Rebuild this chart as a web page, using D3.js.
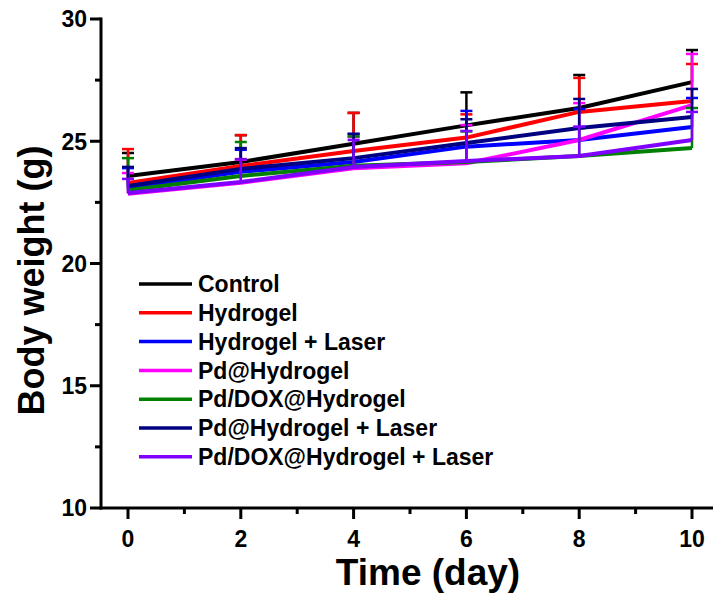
<!DOCTYPE html>
<html>
<head>
<meta charset="utf-8">
<script src="https://cdn.jsdelivr.net/npm/d3@7"></script>
<style>
  html, body { margin: 0; padding: 0; background: #fff; }
  svg text { font-family: Arial, "Liberation Sans", sans-serif; font-weight: bold; }
</style>
</head>
<body>
<svg id="chart" width="713" height="601"></svg>
<script>
const days = [0, 2, 4, 6, 8, 10];
const seriesNames = ["Control", "Hydrogel", "Hydrogel + Laser", "Pd@Hydrogel", "Pd/DOX@Hydrogel", "Pd@Hydrogel + Laser", "Pd/DOX@Hydrogel + Laser"];
const seriesColors = ["#000000", "#ff0000", "#0000ff", "#ff00ff", "#008000", "#000080", "#7f00ff"];
const controlMean = [23.58, 24.15, 24.9, 25.65, 26.36, 27.42];
const controlErr  = [0.94, 1.10, 1.26, 1.35, 1.35, 1.31];
const hydrogelMean = [23.29, 23.99, 24.6, 25.15, 26.2, 26.65];
const hydrogelErr  = [1.39, 1.26, 1.56, 0.95, 1.39, 1.51];
const hydrogelLaserMean = [23.1, 23.75, 24.15, 24.78, 25.05, 25.58];
const hydrogelLaserErr  = [0.8, 0.9, 1.15, 1.46, 1.27, 1.19];
const pdHydrogelMean = [22.85, 23.3, 23.9, 24.1, 25.05, 26.48];
const pdHydrogelErr  = [0.85, 0.95, 1.27, 1.56, 1.51, 2.09];
const pdDoxHydrogelMean = [23.0, 23.58, 24.0, 24.15, 24.4, 24.72];
const pdDoxHydrogelErr  = [1.31, 1.39, 1.2, 1.25, 1.14, 1.64];
const pdHydrogelLaserMean = [23.17, 23.87, 24.31, 24.93, 25.54, 25.99];
const pdHydrogelLaserErr  = [0.78, 0.85, 0.99, 0.97, 1.19, 1.15];
const pdDoxHydrogelLaserMean = [22.88, 23.33, 23.95, 24.19, 24.4, 25.05];
const pdDoxHydrogelLaserErr  = [0.58, 0.94, 1.1, 1.23, 1.2, 1.15];
const xTicks = [0, 2, 4, 6, 8, 10];
const yTicks = [10, 15, 20, 25, 30];

const means = [controlMean, hydrogelMean, hydrogelLaserMean, pdHydrogelMean, pdDoxHydrogelMean, pdHydrogelLaserMean, pdDoxHydrogelLaserMean];
const errs = [controlErr, hydrogelErr, hydrogelLaserErr, pdHydrogelErr, pdDoxHydrogelErr, pdHydrogelLaserErr, pdDoxHydrogelLaserErr];

const svg = d3.select("#chart");
const x = d3.scaleLinear().domain([0, 10]).range([128, 692]);
const y = d3.scaleLinear().domain([10, 30]).range([508, 19]);
const axisLeftX = 101;

// series lines and error bars
const line = d3.line().x(d => x(d[0])).y(d => y(d[1]));
means.forEach((m, i) => {
  const pts = days.map((d, j) => [d, m[j]]);
  const g = svg.append("g");
  g.append("path").attr("d", line(pts)).attr("fill", "none")
    .attr("stroke", seriesColors[i]).attr("stroke-width", 4).attr("stroke-linejoin", "round");
  days.forEach((d, j) => {
    const top = m[j] + errs[i][j];
    g.append("line").attr("x1", x(d)).attr("x2", x(d)).attr("y1", y(m[j])).attr("y2", y(top))
      .attr("stroke", seriesColors[i]).attr("stroke-width", 2.5);
    g.append("line").attr("x1", x(d) - 6).attr("x2", x(d) + 6).attr("y1", y(top)).attr("y2", y(top))
      .attr("stroke", seriesColors[i]).attr("stroke-width", 2.5);
  });
});

// axes
const xAxisG = svg.append("g").attr("transform", `translate(0,${y(10)})`);
xAxisG.append("line").attr("x1", axisLeftX - 1.5).attr("x2", 713).attr("y1", 0).attr("y2", 0)
  .attr("stroke", "#000").attr("stroke-width", 3);
const xMinor = d3.range(1, 11, 2);
xAxisG.selectAll(".xminor").data(xMinor).join("line")
  .attr("x1", d => x(d)).attr("x2", d => x(d)).attr("y1", 0).attr("y2", 6)
  .attr("stroke", "#000").attr("stroke-width", 3);
xAxisG.selectAll(".xmajor").data(xTicks).join("line")
  .attr("x1", d => x(d)).attr("x2", d => x(d)).attr("y1", 0).attr("y2", 11)
  .attr("stroke", "#000").attr("stroke-width", 3);
xAxisG.selectAll(".xlab").data(xTicks).join("text")
  .attr("x", d => x(d)).attr("y", 39).attr("text-anchor", "middle")
  .attr("font-size", 23).text(d => d);

const yAxisG = svg.append("g").attr("transform", `translate(${axisLeftX},0)`);
yAxisG.append("line").attr("x1", 0).attr("x2", 0).attr("y1", y(30) - 1.5).attr("y2", y(10) + 1.5)
  .attr("stroke", "#000").attr("stroke-width", 3);
const yMinor = [12.5, 17.5, 22.5, 27.5];
yAxisG.selectAll(".yminor").data(yMinor).join("line")
  .attr("x1", -6).attr("x2", 0).attr("y1", d => y(d)).attr("y2", d => y(d))
  .attr("stroke", "#000").attr("stroke-width", 3);
yAxisG.selectAll(".ymajor").data(yTicks).join("line")
  .attr("x1", -11).attr("x2", 0).attr("y1", d => y(d)).attr("y2", d => y(d))
  .attr("stroke", "#000").attr("stroke-width", 3);
yAxisG.selectAll(".ylab").data(yTicks).join("text")
  .attr("x", -14).attr("y", d => y(d)).attr("dy", "0.36em").attr("text-anchor", "end")
  .attr("font-size", 23).text(d => d);

// axis titles
svg.append("text").attr("x", 428).attr("y", 585).attr("text-anchor", "middle")
  .attr("font-size", 37).text("Time (day)");
svg.append("text").attr("transform", `translate(44,${(y(10) + y(30)) / 2 + 17}) rotate(-90)`)
  .attr("text-anchor", "middle").attr("font-size", 36).text("Body weight (g)");

// legend
const leg = svg.append("g");
seriesNames.forEach((n, i) => {
  const ly = 284 + i * 28.8;
  leg.append("line").attr("x1", 139).attr("x2", 192).attr("y1", ly).attr("y2", ly)
    .attr("stroke", seriesColors[i]).attr("stroke-width", 3.5);
  leg.append("text").attr("x", 198).attr("y", ly).attr("dy", "0.36em")
    .attr("font-size", 23).text(n);
});
</script>
</body>
</html>
